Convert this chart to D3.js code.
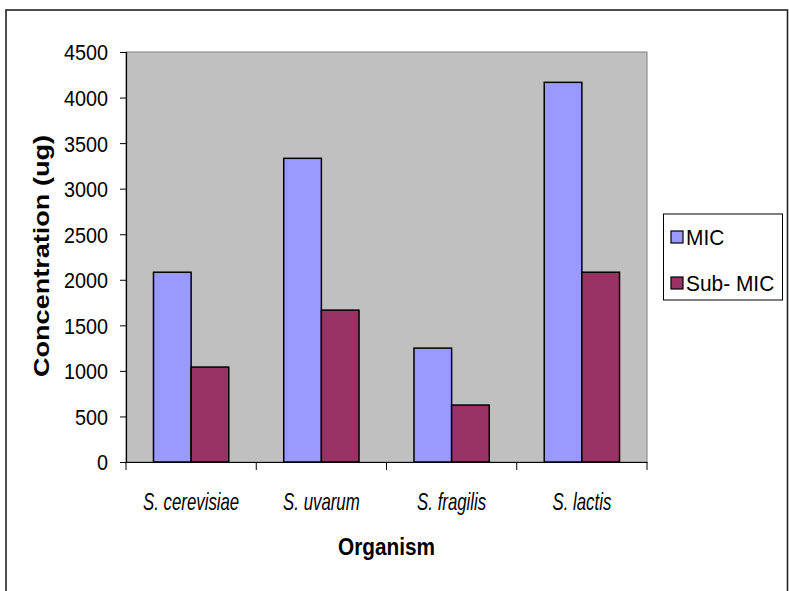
<!DOCTYPE html>
<html><head><meta charset="utf-8">
<script src="https://cdn.jsdelivr.net/npm/d3@7/dist/d3.min.js"></script>
<style>body{margin:0;background:#fff}svg{display:block}</style>
</head><body>
<svg id="c" width="789" height="591"></svg>
<script>
const categories = ["S. cerevisiae", "S. uvarum", "S. fragilis", "S. lactis"];
const seriesNames = ["MIC", "Sub- MIC"];
const micValues = [2083, 3333, 1250, 4167];
const subMicValues = [1042, 1667, 625, 2083];
const yTicks = [0, 500, 1000, 1500, 2000, 2500, 3000, 3500, 4000, 4500];
const colors = ["#9999FF", "#993366"];

const svg = d3.select("#c");
const font = "'Liberation Sans',Arial,sans-serif";
const L = 126, R = 647, T = 52, B = 462;

function condense(sel, f) {
  sel.each(function () {
    const w = this.getComputedTextLength();
    d3.select(this).attr("textLength", w * f).attr("lengthAdjust", "spacingAndGlyphs");
  });
}

// outer frame
svg.append("rect").attr("x", 6).attr("y", 10).attr("width", 781.5).attr("height", 600)
  .attr("fill", "#fff").attr("stroke", "#222").attr("stroke-width", 1.6);

const x = d3.scaleBand().domain(categories).range([L, R]).paddingInner(0).paddingOuter(0);
const x1 = d3.scaleBand().domain(seriesNames).range([0, x.bandwidth()]).paddingInner(0).paddingOuter(0.73);
const y = d3.scaleLinear().domain([0, 4500]).range([B, T]);

// plot area
svg.append("rect").attr("x", L).attr("y", T).attr("width", R - L).attr("height", B - T)
  .attr("fill", "#C0C0C0").attr("stroke", "#808080").attr("stroke-width", 1);

const data = categories.map((c, i) => ({cat: c, vals: [micValues[i], subMicValues[i]]}));
const g = svg.append("g");
data.forEach(d => {
  d.vals.forEach((v, j) => {
    g.append("rect")
      .attr("x", x(d.cat) + x1(seriesNames[j]))
      .attr("y", y(v))
      .attr("width", x1.bandwidth())
      .attr("height", y(0) - y(v))
      .attr("fill", colors[j])
      .attr("stroke", "#000").attr("stroke-width", 1.5);
  });
});

// y axis
const ya = svg.append("g").attr("transform", `translate(${L},0)`)
  .call(d3.axisLeft(y).tickValues(yTicks).tickSize(6).tickPadding(12).tickFormat(d3.format("d")));
ya.select(".domain").attr("stroke", "#000").attr("stroke-width", 1.2);
ya.selectAll(".tick line").attr("stroke", "#000");
ya.selectAll("text").attr("font-family", font).attr("font-size", 22).attr("fill", "#000").attr("dy", "0.36em");
condense(ya.selectAll("text"), 0.9);

// x axis
const xa = svg.append("g").attr("transform", `translate(0,${B})`)
  .call(d3.axisBottom(x).tickSize(0).tickPadding(30));
xa.select(".domain").attr("stroke", "#000").attr("stroke-width", 1.2);
xa.selectAll("text").attr("font-family", font).attr("font-size", 24).attr("font-style", "italic")
  .attr("fill", "#000").attr("y", 48).attr("dy", 0);
condense(xa.selectAll("text"), 0.7);
// boundary ticks
const bounds = categories.map(c => x(c)).concat([x.range()[1]]);
svg.append("g").selectAll("line").data(bounds).join("line")
  .attr("x1", d => d).attr("x2", d => d).attr("y1", B).attr("y2", B + 8)
  .attr("stroke", "#000").attr("stroke-width", 1);

// axis titles
svg.append("text").attr("x", (L + R) / 2).attr("y", 555).attr("text-anchor", "middle")
  .attr("font-family", font).attr("font-weight", "bold").attr("font-size", 23)
  .attr("textLength", 97).attr("lengthAdjust", "spacingAndGlyphs").text("Organism");
svg.append("text").attr("transform", `translate(49,${(T + B) / 2 - 1}) rotate(-90)`).attr("text-anchor", "middle")
  .attr("font-family", font).attr("font-weight", "bold").attr("font-size", 22)
  .attr("textLength", 242).attr("lengthAdjust", "spacingAndGlyphs")
  .text("Concentration (ug)");

// legend
const lg = svg.append("g");
lg.append("rect").attr("x", 663.5).attr("y", 214).attr("width", 119).attr("height", 86)
  .attr("fill", "#fff").attr("stroke", "#000").attr("stroke-width", 1);
seriesNames.forEach((s, i) => {
  const yy = 231 + i * 46;
  lg.append("rect").attr("x", 671).attr("y", yy).attr("width", 12).attr("height", 12)
    .attr("fill", colors[i]).attr("stroke", "#000").attr("stroke-width", 1.2);
  const t = lg.append("text").attr("x", 686).attr("y", yy + 14).attr("font-family", font).attr("font-size", 22).text(s);
  condense(t, 0.95);
});
</script>
</body></html>
